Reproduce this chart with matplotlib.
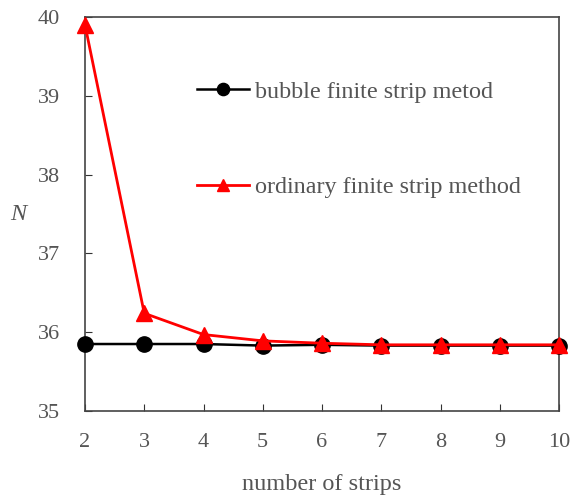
import matplotlib.pyplot as plt

plt.rcParams['font.family'] = ['Liberation Serif', 'DejaVu Serif']

strips = [2, 3, 4, 5, 6, 7, 8, 9, 10]
bubble = [35.85, 35.85, 35.85, 35.83, 35.84, 35.83, 35.83, 35.83, 35.83]
ordinary = [39.9, 36.24, 35.97, 35.89, 35.86, 35.84, 35.84, 35.84, 35.84]

txt = '#555555'

fig = plt.figure(figsize=(5.72, 4.96), dpi=100)
ax = fig.add_axes([85/572, 1 - 411/496, (559-85)/572, (411-17)/496])

ax.plot(strips, bubble, color='black', marker='o', markersize=11, linewidth=1.8,
        label='bubble finite strip metod', clip_on=False, zorder=3)
ax.plot(strips, ordinary, color='red', marker='^', markersize=11, linewidth=2,
        label='ordinary finite strip method', clip_on=False, zorder=4)

ax.set_xlim(2, 10)
ax.set_ylim(35, 40)
ax.set_xticks(strips)
ax.set_yticks([35, 36, 37, 38, 39, 40])
ax.tick_params(direction='in', length=5, labelsize=16, colors=txt)
ax.tick_params(axis='x', pad=16)
ax.tick_params(axis='y', pad=18)
ax.tick_params(axis='both', color='#333333')
for s in ax.spines.values():
    s.set_color('#444444')
    s.set_linewidth(1.2)

ax.set_xlabel('number of strips', fontsize=17.5, color=txt, labelpad=16)
ax.set_ylabel('N', fontsize=17.5, color=txt, style='italic', rotation=0, va='center')
ax.yaxis.set_label_coords(-0.14, 0.5)

leg = ax.legend(loc='upper left', bbox_to_anchor=(0.19, 0.893), frameon=False,
                fontsize=17.4, labelspacing=3.05, handlelength=2.15, handletextpad=0.25,
                markerscale=0.8)
for t in leg.get_texts():
    t.set_color(txt)

fig.savefig('out.png', dpi=100)
